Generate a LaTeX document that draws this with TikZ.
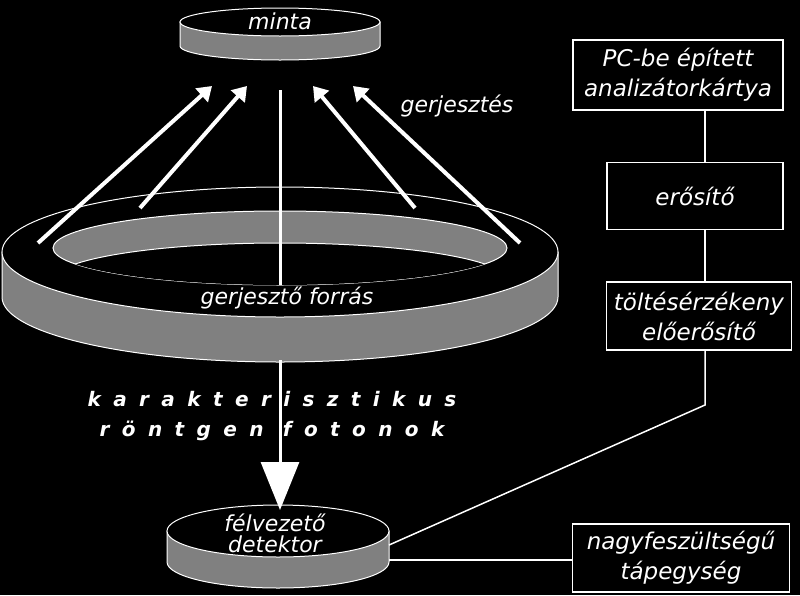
\documentclass[tikz,border=0pt]{standalone}
\usepackage{fontspec}
\setmainfont{DejaVu Sans}
\usetikzlibrary{arrows.meta}
\begin{document}
\begin{tikzpicture}[x=1pt,y=-1pt,
  lbl/.style={text=white,font=\itshape\fontsize{22}{24}\selectfont,align=center,inner sep=0pt},
  box/.style={draw=white,line width=1.5pt,fill=black,text=white,font=\itshape\fontsize{23}{30}\selectfont,align=center,inner sep=0pt},
  wire/.style={draw=white,line width=1.5pt},
  ray/.style={draw=white,line width=4pt,-{Triangle[length=14pt,width=18pt]}},
  edge/.style={draw=white,line width=1pt}]
\fill[black] (0,0) rectangle (800,595);
\useasboundingbox (0,0) rectangle (800,595);
% ring
\path[fill=gray,edge] (2,252) -- (2,297) arc[start angle=180,end angle=0,x radius=278,y radius=65] -- (558,252) -- cycle;
\path[fill=black,edge] (280,252) ellipse[x radius=278,y radius=65];
\path[fill=gray,edge] (280,248) ellipse[x radius=227,y radius=37];
\begin{scope}
\clip (280,248) ellipse[x radius=227,y radius=37];
\path[fill=black,edge] (280,280) ellipse[x radius=227,y radius=37];
\end{scope}
% minta
\path[fill=gray,edge] (180,22) -- (180,46) arc[start angle=180,end angle=0,x radius=100,y radius=14] -- (380,22) -- cycle;
\path[fill=black,edge] (280,22) ellipse[x radius=100,y radius=14];
\node[lbl] (minta) at (280,21) {minta};
% rays
\coordinate (a1) at (38,243); \coordinate (b1) at (212,86);
\coordinate (a2) at (140,208); \coordinate (b2) at (247,86);
\coordinate (a3) at (280,285); \coordinate (b3) at (280,90);
\coordinate (a4) at (415,208); \coordinate (b4) at (313,86);
\coordinate (a5) at (520,243); \coordinate (b5) at (353,86);
\draw[ray] (a1) -- (b1);
\draw[ray] (a2) -- (b2);
\draw[white,line width=3pt] (a3) -- (b3);
\draw[ray] (a4) -- (b4);
\draw[ray] (a5) -- (b5);
\node[lbl] (gj) at (457,106) {gerjesztés};
\node[lbl] (src) at (287,298) {gerjesztő forrás};
% detector
\path[fill=gray,edge] (167,531) -- (167,562) arc[start angle=180,end angle=0,x radius=111,y radius=26] -- (389,531) -- cycle;
\path[fill=black,edge] (278,531) ellipse[x radius=111,y radius=26];
\node[lbl,font=\itshape\fontsize{22}{21}\selectfont] (det) at (275,533) {félvezető\\detektor};
% big arrow
\coordinate (c1) at (280,360); \coordinate (c2) at (280,510);
\draw[white,line width=3pt,-{Triangle[length=48pt,width=38pt]}] (c1) -- (c2);
\node[text=white,font=\bfseries\itshape\fontsize{20}{30}\selectfont,align=center] (kr) at (272,416)
 {\addfontfeature{LetterSpace=62}karakterisztikus\\\addfontfeature{LetterSpace=62}röntgen fotonok};
% boxes
\node[box,minimum width=210,minimum height=70] (pc) at (678,75) {PC-be épített\\analizátorkártya};
\node[box,minimum width=176,minimum height=67] (er) at (695,196) {erősítő};
\node[box,minimum width=185,minimum height=68] (tol) at (699,316) {töltésérzékeny\\előerősítő};
\node[box,minimum width=217,minimum height=68] (ny) at (681,558) {nagyfeszültségű\\tápegység};
\draw[wire] (705,110) -- (705,163);
\draw[wire] (705,230) -- (705,282);
\draw[wire] (705,350) -- (705,405) -- (389,545);
\draw[wire] (389,560) -- (ny.west|-389,560);
\end{tikzpicture}
\end{document}
